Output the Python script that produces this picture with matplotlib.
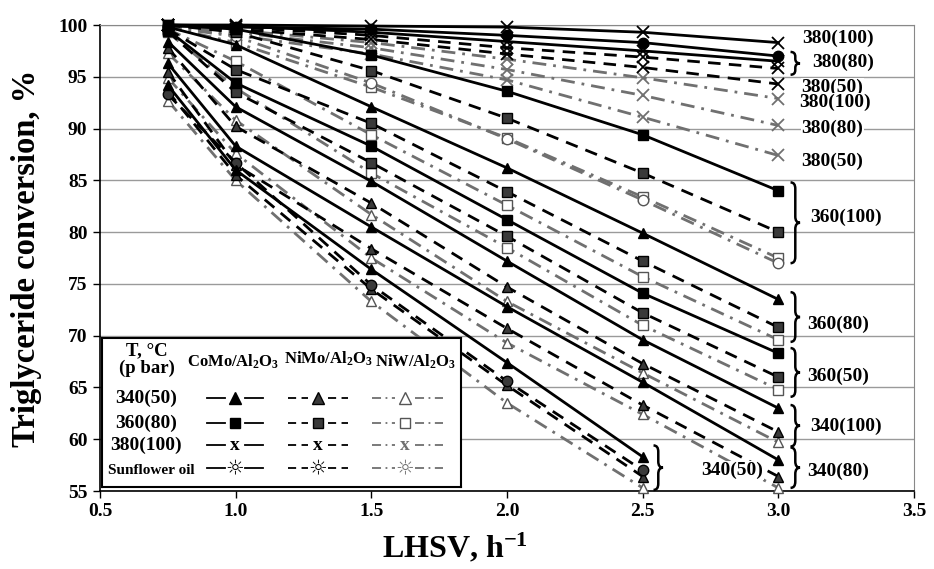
import matplotlib
matplotlib.use('Agg')
import matplotlib.pyplot as plt
from matplotlib.path import Path
from matplotlib.patches import PathPatch

plt.rcParams['font.family'] = ['Liberation Serif', 'DejaVu Sans']
plt.rcParams['font.weight'] = 'bold'
plt.rcParams['mathtext.fontset'] = 'custom'
plt.rcParams['mathtext.rm'] = 'Liberation Serif:bold'
plt.rcParams['mathtext.it'] = 'Liberation Serif:bold'
plt.rcParams['mathtext.bf'] = 'Liberation Serif:bold'

# LHSV points (h^-1)
lhsv = [0.75, 1.0, 1.5, 2.0, 2.5, 3.0]
lhsv_340_50 = [0.75, 1.0, 1.5, 2.0, 2.5]

# 380 C
como_380_100 = [100.0, 100.0, 99.9, 99.8, 99.3, 98.3]
oil_como_380 = [99.9, 99.8, 99.6, 99.0, 98.3, 97.0]
como_380_80 = [100.0, 99.9, 99.3, 98.4, 97.5, 96.5]
nimo_380_80 = [100.0, 99.8, 99.0, 97.8, 96.9, 95.8]
nimo_380_50 = [100.0, 99.6, 98.6, 97.2, 95.9, 94.3]
niw_380_100 = [100.0, 99.5, 98.3, 96.7, 94.9, 92.9]
niw_380_80 = [100.0, 99.3, 97.8, 95.7, 93.2, 90.3]
niw_380_50 = [100.0, 99.0, 97.2, 94.7, 91.1, 87.4]

# 360 C
como_360_100 = [100.0, 99.6, 97.1, 93.6, 89.4, 84.0]
nimo_360_100 = [100.0, 99.3, 95.6, 91.0, 85.7, 80.0]
niw_360_100 = [99.8, 98.3, 94.0, 89.1, 83.4, 77.5]
oil_niw_360 = [99.8, 98.9, 94.4, 89.0, 83.1, 77.0]
como_360_80 = [99.8, 98.1, 92.1, 86.2, 79.9, 73.5]
nimo_360_80 = [99.6, 95.7, 90.5, 83.9, 77.2, 70.8]
niw_360_80 = [99.6, 96.5, 89.4, 82.6, 75.7, 69.6]
como_360_50 = [99.5, 94.4, 88.3, 81.2, 74.1, 68.3]
nimo_360_50 = [99.4, 93.5, 86.7, 79.6, 72.2, 66.0]
niw_360_50 = [99.3, 93.9, 85.7, 78.5, 71.0, 64.8]

# 340 C
como_340_100 = [98.4, 92.1, 84.9, 77.2, 69.6, 63.0]
nimo_340_100 = [97.8, 90.2, 82.8, 74.7, 67.3, 60.7]
niw_340_100 = [97.3, 90.8, 81.7, 73.3, 66.4, 59.7]
como_340_80 = [96.3, 88.3, 80.5, 72.8, 65.5, 58.0]
nimo_340_80 = [95.5, 86.5, 78.4, 70.7, 63.3, 56.4]
niw_340_80 = [94.9, 87.6, 77.5, 69.3, 62.4, 55.3]
como_340_50 = [94.2, 86.0, 76.4, 67.4, 58.3]
oil_nimo_340 = [93.3, 86.7, 74.9, 65.6, 57.0]
nimo_340_50 = [93.6, 85.5, 74.5, 65.2, 56.4]
niw_340_50 = [92.7, 85.0, 73.3, 63.5, 55.3]

# labels on the right
right_labels = ['380(100)', '380(80)', '380(50)', '380(100)', '380(80)', '380(50)',
                '360(100)', '360(80)', '360(50)', '340(100)', '340(80)', '340(50)']
right_label_x = [3.22, 3.24, 3.20, 3.21, 3.20, 3.20, 3.25, 3.22, 3.22, 3.25, 3.22, 2.83]
right_label_y = [98.75, 96.4, 94.0, 92.5, 90.05, 86.8, 81.4, 71.1, 66.1, 61.2, 56.85, 57.0]

# braces: x, top, bottom
brace_x = [3.045, 3.045, 3.045, 3.045, 3.045, 3.045, 2.54]
brace_top = [97.4, 84.8, 74.2, 68.8, 63.3, 59.2, 59.4]
brace_bot = [95.2, 77.0, 69.4, 64.1, 59.3, 55.3, 55.1]

styles = {
    'CoMo': dict(color='black', ls='-', mfc='black', mec='black'),
    'NiMo': dict(color='black', ls=(0, (4.5, 3)), mfc='#3a3a3a', mec='black'),
    'NiW': dict(color='#707070', ls=(0, (5, 2.5, 1, 2.5)), mfc='white', mec='#555555'),
}

series = [
    (lhsv, niw_380_100, 'NiW', 'x'), (lhsv, niw_380_80, 'NiW', 'x'), (lhsv, niw_380_50, 'NiW', 'x'),
    (lhsv, niw_360_100, 'NiW', 's'), (lhsv, oil_niw_360, 'NiW', 'o'),
    (lhsv, niw_360_80, 'NiW', 's'), (lhsv, niw_360_50, 'NiW', 's'),
    (lhsv, niw_340_100, 'NiW', '^'), (lhsv, niw_340_80, 'NiW', '^'), (lhsv_340_50, niw_340_50, 'NiW', '^'),
    (lhsv, nimo_380_80, 'NiMo', 'x'), (lhsv, nimo_380_50, 'NiMo', 'x'),
    (lhsv, nimo_360_100, 'NiMo', 's'), (lhsv, nimo_360_80, 'NiMo', 's'), (lhsv, nimo_360_50, 'NiMo', 's'),
    (lhsv, nimo_340_100, 'NiMo', '^'), (lhsv, nimo_340_80, 'NiMo', '^'),
    (lhsv_340_50, nimo_340_50, 'NiMo', '^'), (lhsv_340_50, oil_nimo_340, 'NiMo', 'o'),
    (lhsv, como_380_100, 'CoMo', 'x'), (lhsv, como_380_80, 'CoMo', 'x'), (lhsv, oil_como_380, 'CoMo', 'o'),
    (lhsv, como_360_100, 'CoMo', 's'), (lhsv, como_360_80, 'CoMo', '^'), (lhsv, como_360_50, 'CoMo', 's'),
    (lhsv, como_340_100, 'CoMo', '^'), (lhsv, como_340_80, 'CoMo', '^'), (lhsv_340_50, como_340_50, 'CoMo', '^'),
]


def brace(ax, x0, y_top, y_bot, w=0.035, r=0.6):
    ym = (y_top + y_bot) / 2
    xm = x0 + w / 2
    verts = [(x0, y_top), (xm, y_top), (xm, y_top - r), (xm, ym + r),
             (xm, ym), (x0 + w, ym), (xm, ym), (xm, ym - r), (xm, y_bot + r),
             (xm, y_bot), (x0, y_bot)]
    codes = [Path.MOVETO, Path.CURVE3, Path.CURVE3, Path.LINETO,
             Path.CURVE3, Path.CURVE3, Path.CURVE3, Path.CURVE3, Path.LINETO,
             Path.CURVE3, Path.CURVE3]
    ax.add_patch(PathPatch(Path(verts, codes), fill=False, lw=1.8, color='black',
                           clip_on=False, zorder=6))


fig = plt.figure(figsize=(9.34, 5.69), dpi=100)
ax = fig.add_axes([100 / 934, 1 - 491 / 569, 814 / 934, 466 / 569])

for xs, ys, cat, mk in series:
    st = styles[cat]
    ms = 9 if mk == 'x' else 7.5
    if mk == 's':
        ms = 7
    mew = 1.3 if mk == 'x' else 1.0
    mec = st['color'] if mk == 'x' else st['mec']
    ax.plot(xs, ys, color=st['color'], ls=st['ls'], lw=2.0, marker=mk, ms=ms,
            mfc=st['mfc'], mec=mec, mew=mew, clip_on=False, zorder=3)

for lab, lx, ly in zip(right_labels, right_label_x, right_label_y):
    ax.text(lx, ly, lab, ha='center', va='center', fontsize=14, fontweight='bold',
            bbox=dict(facecolor='white', edgecolor='none', pad=0.5), zorder=5)

for bx, bt, bb in zip(brace_x, brace_top, brace_bot):
    brace(ax, bx, bt, bb, r=min(0.6, (bt - bb) / 5))

ax.set_xlim(0.5, 3.5)
ax.set_ylim(55, 100)
ax.set_xticks([0.5, 1.0, 1.5, 2.0, 2.5, 3.0, 3.5])
ax.set_xticklabels(['%.1f' % t for t in [0.5, 1.0, 1.5, 2.0, 2.5, 3.0, 3.5]])
ax.set_yticks(range(55, 101, 5))
ax.tick_params(direction='out', length=5, width=1, labelsize=14, pad=4)
ax.yaxis.grid(True, color='#9a9a9a', lw=1)
ax.set_axisbelow(True)
for s in ['left', 'bottom']:
    ax.spines[s].set_linewidth(1.2)
for s in ['top', 'right']:
    ax.spines[s].set_color('#888888')
ax.set_xlabel('LHSV, h$^{-1}$', fontsize=23, fontweight='bold')
ax.xaxis.set_label_coords(0.436, -0.085)
ax.set_ylabel('Triglyceride conversion, %', fontsize=23.5, fontweight='bold')
ax.yaxis.set_label_coords(-0.071, 0.5)

# hand-built legend box
lg = fig.add_axes([102 / 934, 1 - 487 / 569, 359 / 934, 149 / 569], zorder=10)
lg.set_xlim(0, 359)
lg.set_ylim(149, 0)
lg.set_xticks([])
lg.set_yticks([])
for s in lg.spines.values():
    s.set_linewidth(1.5)
lg.text(45, 13, 'T, °C', ha='center', va='center', fontsize=13.5)
lg.text(45, 30, '(p bar)', ha='center', va='center', fontsize=13.5)
lg.text(131, 24, 'CoMo/Al$_2$O$_3$', ha='center', va='center', fontsize=12)
lg.text(226, 21, 'NiMo/Al$_2$O$_3$', ha='center', va='center', fontsize=12)
lg.text(314, 24, 'NiW/Al$_2$O$_3$', ha='center', va='center', fontsize=12)
row_names = ['340(50)', '360(80)', '380(100)']
row_y = [60, 85, 107, 130]
for name, ry in zip(row_names, row_y):
    lg.text(44, ry, name, ha='center', va='center', fontsize=14)
lg.text(6, 132, 'Sunflower oil', ha='left', va='center', fontsize=11)

cols = [('CoMo', 105, 133, 161), ('NiMo', 186, 216, 246), ('NiW', 270, 303, 341)]
row_markers = ['^', 's', 'x', 'sun']
for cat, x0, xm, x1 in cols:
    st = styles[cat]
    for mk, ry in zip(row_markers, row_y):
        gap = 10
        lg.plot([x0, xm - gap], [ry, ry], color=st['color'], ls=st['ls'], lw=1.3)
        lg.plot([xm + gap, x1], [ry, ry], color=st['color'], ls=st['ls'], lw=1.3)
        if mk == 'sun':
            lg.text(xm, ry, '\u263c', ha='center', va='center', fontsize=15,
                    family='DejaVu Sans', color=st['color'] if cat == 'NiW' else 'black',
                    fontweight='normal')
        elif mk == 'x':
            lg.text(xm, ry, 'x', ha='center', va='center', fontsize=14,
                    color=st['color'] if cat == 'NiW' else 'black')
        else:
            lg.plot([xm], [ry], marker=mk, ms=9 if mk == '^' else 6.5, mfc=st['mfc'],
                    mec=st['mec'], mew=1.0, ls='none')

fig.savefig('out.png', dpi=100)
